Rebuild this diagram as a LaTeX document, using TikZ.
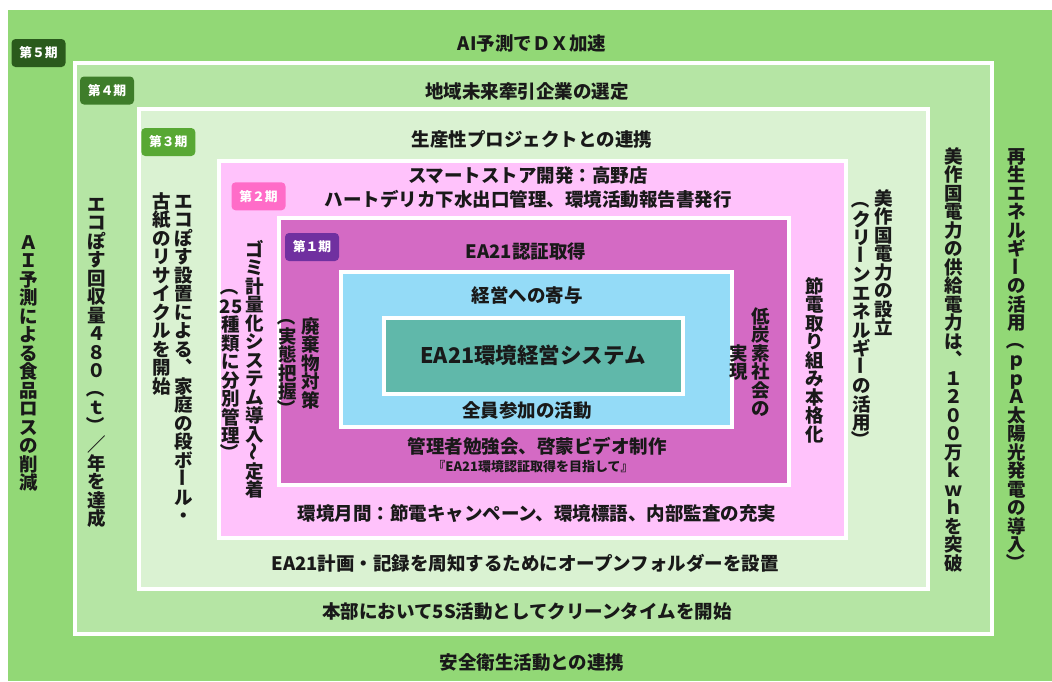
\documentclass[tikz,border=0pt]{standalone}
\usepackage{fontspec}
\setmainfont{Noto Sans CJK JP}
\usepackage{tikz}

\definecolor{ki5}{HTML}{92D876}
\definecolor{ki4}{HTML}{B5E5A4}
\definecolor{ki3}{HTML}{DAF2D2}
\definecolor{ki2}{HTML}{FFC2FB}
\definecolor{ki1}{HTML}{D46AC4}
\definecolor{kiblue}{HTML}{94DBF7}
\definecolor{kiteal}{HTML}{60B8AA}
\definecolor{bg5}{HTML}{2A5A1C}
\definecolor{bg4}{HTML}{3E7D2A}
\definecolor{bg3}{HTML}{58A834}
\definecolor{bg2}{HTML}{FF6CC8}
\definecolor{bg1}{HTML}{7030A0}

\makeatletter
\newcommand\tcell[1]{\hbox to 1em{\hss\vrule height .88em depth .12em width 0pt #1\hss}}
\newcommand\tate[1]{\vbox{\baselineskip=1em\lineskiplimit=-\maxdimen\lineskip=0pt
  \@tfor\tch:=#1\do{\tcell{\tch}}}}
\makeatother
\newcommand\trot[1]{\rotatebox[origin=c]{-90}{\XeTeXuseglyphmetrics=0 #1}}

\begin{document}
\begin{tikzpicture}[x=1pt,y=-1pt,
    lay/.style={draw=white,line width=4},
    lbl/.style={inner sep=0,text=black!90,font=\fontsize{18.5}{24}\selectfont\bfseries},
    tcol/.style={lbl,anchor=north},
    badge/.style={rounded corners=4,minimum width=54,minimum height=28,inner sep=0,
      text=white,font=\fontsize{12.8}{14}\selectfont\bfseries}]
\useasboundingbox (0,0) rectangle (1052,681);
\fill[white] (0,0) rectangle (1052,681);
\fill[ki5] (8,10) rectangle (1052,681);
\draw[lay,fill=ki4] (74.7,63.3) rectangle (992,634);
\draw[lay,fill=ki3] (139,109) rectangle (927.5,589);
\draw[lay,fill=ki2] (218.7,161.3) rectangle (846,537.5);
\draw[lay,fill=ki1] (278.7,218.3) rectangle (788.7,485);
\draw[lay,fill=kiblue] (341,272) rectangle (732,427);
\draw[lay,fill=kiteal] (384.3,318.4) rectangle (683,393.7);

\node[badge,fill=bg5] (badge5) at (38.5,53) {第５期};
\node[badge,fill=bg4] (badge4) at (107,90.5) {第４期};
\node[badge,fill=bg3] (badge3) at (168.3,142) {第３期};
\node[badge,fill=bg2] (badge2) at (258.5,196.3) {第２期};
\node[badge,fill=bg1] (badge1) at (312,247) {第１期};

\node[lbl] (top5) at (532,44) {AI予測でＤＸ加速};
\node[lbl] (bot5) at (532,662) {安全衛生活動との連携};
\node[lbl] (top4) at (527,91) {地域未来牽引企業の選定};
\node[lbl] (bot4) at (527,612) {本部において5S活動としてクリーンタイムを開始};
\node[lbl] (top3) at (532,139) {生産性プロジェクトとの連携};
\node[lbl] (bot3) at (525,563) {EA21計画・記録を周知するためにオープンフォルダーを設置};
\node[lbl,align=center] (top2) at (528,188) {スマートストア開発：高野店\\ハートデリカ下水出口管理、環境活動報告書発行};
\node[lbl] (bot2) at (537,514) {環境月間：節電キャンペーン、環境標語、内部監査の充実};
\node[lbl] (top1) at (526,251) {EA21認証取得};
\node[lbl] (bot1) at (537,446) {管理者勉強会、啓蒙ビデオ制作};
\node[lbl,font=\fontsize{13}{14}\selectfont\bfseries] (sub1) at (533,467) {『EA21環境認証取得を目指して』};
\node[lbl] (topb) at (527,295) {経営への寄与};
\node[lbl] (botb) at (527,410) {全員参加の活動};
\node[lbl,font=\fontsize{21.5}{24}\selectfont\bfseries] (core) at (533,355) {EA21環境経営システム};

\node[tcol] (left5) at (28.5,233) {\tate{ＡＩ予測による食品ロスの削減}};
\node[tcol] (left4) at (96.5,195) {\tate{エコぽす回収量４８０{\trot{（}}ｔ{\trot{）}}／年を達成}};
\node[tcol] (left3a) at (183.5,192) {\tate{エコぽす設置による︑家庭の段ボ{\trot{ー}}ル・}};
\node[tcol] (left3b) at (161.7,192) {\tate{古紙のリサイクルを開始}};
\node[tcol] (left2a) at (255,240) {\tate{ゴミ計量化システム導入{\trot{～}}定着}};
\node[tcol] (left2b) at (231,277) {\tate{{\trot{（}}{25}種類に分別管理{\trot{）}}}};
\node[tcol] (left1a) at (311,317) {\tate{廃棄物対策}};
\node[tcol] (left1b) at (288,307) {\tate{{\trot{（}}実態把握{\trot{）}}}};
\node[tcol] (right1a) at (761,307) {\tate{低炭素社会の}};
\node[tcol] (right1b) at (739,344) {\tate{実現}};
\node[tcol] (right2) at (815,277) {\tate{節電取り組み本格化}};
\node[tcol] (right3a) at (883.5,189) {\tate{美作国電力の設立}};
\node[tcol] (right3b) at (861.5,190) {\tate{{\trot{（}}クリ{\trot{ー}}ンエネルギ{\trot{ー}}の活用{\trot{）}}}};
\node[tcol] (right4) at (953.5,147) {\tate{美作国電力の供給電力は︑１２００万ｋｗｈを突破}};
\node[tcol] (right5) at (1016.5,147) {\tate{再生エネルギ{\trot{ー}}の活用{\trot{（}}ｐｐＡ太陽光発電の導入{\trot{）}}}};
\end{tikzpicture}
\end{document}
